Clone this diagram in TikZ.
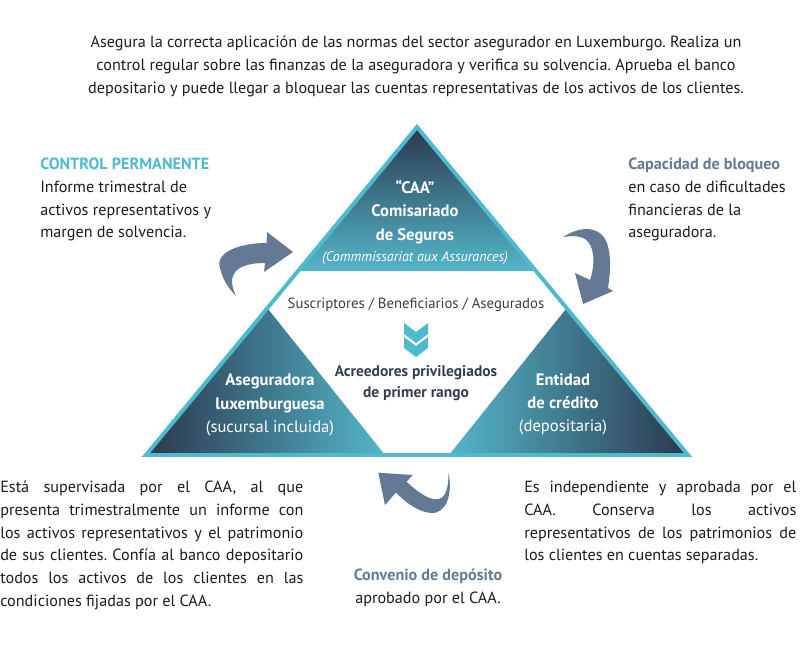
\documentclass[tikz,border=0pt]{standalone}
\usepackage{fontspec}
\setmainfont{PT Sans}
\usepackage{xcolor}
\usepackage{tikz}
\usetikzlibrary{positioning}

\definecolor{lineblue}{RGB}{78,186,206}
\definecolor{navyfill}{RGB}{43,56,78}
\definecolor{tealfill}{RGB}{84,182,202}
\definecolor{slate}{RGB}{100,122,148}
\definecolor{inktext}{RGB}{24,28,34}
\definecolor{midtext}{RGB}{52,62,80}

\frenchspacing

\begin{document}
\begin{tikzpicture}[x=0.025cm, y=-0.025cm,
    body/.style={inner sep=0pt, text=inktext, font=\fontsize{11.5}{16.1}\selectfont,
      execute at begin node={\hyphenpenalty10000 \tolerance10000 }},
    intri/.style={inner sep=0pt, text=white, align=center, font=\fontsize{11.8}{16.6}\selectfont},
    curl/.style={fill=slate}]
\useasboundingbox (0,0) rectangle (800,650);

% triangle fills
\shade[top color=navyfill, bottom color=tealfill] (417,127) -- (298,271) -- (536,271) -- cycle;
\shade[left color=navyfill, right color=tealfill] (146,455) -- (268,309) -- (385,455) -- cycle;
\shade[left color=tealfill, right color=navyfill] (449,455) -- (566,309) -- (688,455) -- cycle;
\draw[lineblue, line width=2.8pt] (417,127) -- (146,455) -- (688,455) -- cycle;

% chevrons
\foreach \dy in {0,14}
  \fill[lineblue] (404,323+\dy) -- (416,332+\dy) -- (428,323+\dy) -- (428,334+\dy) -- (416,343+\dy) -- (404,334+\dy) -- cycle;

% curved arrows
\fill[curl] (266.5,243) .. controls (240,243) and (215,252) .. (220,268)
  .. controls (223,281) and (230,290) .. (236,296)
  .. controls (226,275) and (235,263) .. (265,263) -- (264,272) -- (293,252) -- (267,232) -- cycle;
\fill[curl] (563,237) .. controls (580,226) and (600,225) .. (607,243)
  .. controls (612,258) and (610,275) .. (608,288) -- (613,291) -- (583,304) -- (575,273) -- (590,280)
  .. controls (596,262) and (594,245) .. (585,239) .. controls (578,235) and (570,236) .. cycle;
\fill[curl] (406.5,481.7) .. controls (422,496) and (438,506) .. (445,494)
  .. controls (448,488) and (448.5,480) .. (448.5,473)
  .. controls (453,495) and (446,514) .. (431,513) .. controls (418,512) and (405,502) .. (396,492.5)
  -- (385,505) -- (378.3,472.7) -- (412.7,475) -- cycle;

% texts
\node[body, align=center, anchor=north] (intro) at (416,36)
  {Asegura la correcta aplicación de las normas del sector asegurador en Luxemburgo. Realiza un\\
   control regular sobre las finanzas de la aseguradora y verifica su solvencia. Aprueba el banco\\
   depositario y puede llegar a bloquear las cuentas representativas de los activos de los clientes.};

\node[body, align=left, anchor=north west] (control) at (40,158)
  {{\bfseries\color{lineblue}CONTROL PERMANENTE}\\Informe trimestral de\\activos representativos y\\margen de solvencia.};
\node[body, align=left, anchor=north west] (bloqueo) at (628,158)
  {{\bfseries\color{slate}Capacidad de bloqueo}\\en caso de dificultades\\financieras de la\\aseguradora.};

\node[intri, anchor=north] (caa) at (415,180)
  {\bfseries “CAA”\\\bfseries Comisariado\\\bfseries de Seguros\\[-1.5pt]
   {\itshape\fontsize{10}{12}\selectfont (Commmissariat aux Assurances)}};
\node[intri, anchor=north] (aseguradora) at (270,374)
  {\bfseries Aseguradora\\\bfseries luxemburguesa\\(sucursal incluida)};
\node[intri, anchor=north] (entidad) at (563,373)
  {\bfseries Entidad\\\bfseries de crédito\\(depositaria)};

\node[body, text=midtext, anchor=north, font=\fontsize{10.5}{15}\selectfont] (suscriptores) at (416,298)
  {Suscriptores / Beneficiarios / Asegurados};
\node[body, text=midtext, align=center, anchor=north, font=\bfseries\fontsize{11}{15.4}\selectfont] (acreedores) at (416,365)
  {Acreedores privilegiados\\de primer rango};

\node[body, align=justify, text width=7.575cm, anchor=north west] (supervisada) at (0,481)
  {Está supervisada por el CAA, al que\linebreak
   presenta trimestralmente un informe con\linebreak
   los activos representativos y el patrimonio\linebreak
   de sus clientes. Confía al banco depositario\linebreak
   todos los activos de los clientes en las\linebreak
   condiciones fijadas por el CAA.};
\node[body, align=justify, text width=6.8cm, anchor=north west] (independiente) at (524,481)
  {Es independiente y aprobada por el\linebreak
   CAA. Conserva los activos\linebreak
   representativos de los patrimonios de\linebreak
   los clientes en cuentas separadas.};

\node[body, align=center, anchor=north] (convenio) at (428,569)
  {{\bfseries\color{slate}Convenio de depósito}\\aprobado por el CAA.};
\end{tikzpicture}
\end{document}
